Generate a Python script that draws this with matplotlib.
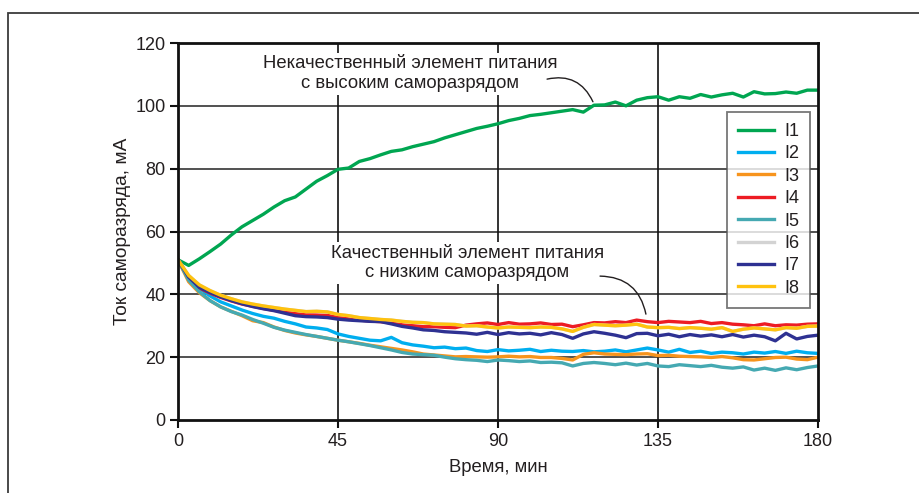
import matplotlib
matplotlib.use("Agg")
import matplotlib.pyplot as plt
from matplotlib.patches import Rectangle

plt.rcParams['font.family'] = ['Liberation Sans', 'DejaVu Sans']

time_min = list(range(0, 181, 3))

I1 = [51, 49.2, 51.3, 53.6, 56, 58.9, 61.5, 63.5, 65.5, 67.8, 69.8, 71, 73.5, 76, 77.8, 79.8, 80.2, 82.3, 83.2, 84.4,
      85.5, 86, 87, 87.8, 88.6, 89.8, 90.8, 91.8, 92.8, 93.5, 94.3, 95.3, 96, 96.9, 97.3, 97.8, 98.3, 98.8, 98.0, 100.2,
      100.3, 101.2, 100.0, 101.8, 102.6, 102.9, 101.8, 102.9, 102.4, 103.6, 102.8, 103.5, 104.0, 102.8, 104.5, 103.8,
      103.9, 104.4, 104.0, 105.0, 105.0]
I2 = [51, 45, 41.9, 39.5, 37.6, 36.3, 35.0, 33.9, 33.0, 32.4, 31.4, 30.6, 29.6, 29.3, 28.8, 27.4, 26.6, 26.0, 25.4, 25.2,
      26.3, 24.6, 23.9, 23.5, 23.0, 23.2, 22.7, 22.9, 22.1, 21.8, 22.4, 22.0, 22.2, 22.5, 21.8, 22.2, 21.9, 21.8, 22.1,
      21.7, 21.9, 22.3, 21.7, 22.3, 22.9, 22.3, 21.6, 22.5, 21.5, 21.9, 21.2, 21.6, 21.4, 21.0, 21.6, 21.3, 21.8, 21.2,
      21.9, 21.4, 21.2]
I3 = [51, 44, 40.5, 38.0, 36.0, 34.6, 33.2, 31.6, 31.0, 29.6, 28.5, 27.7, 27.1, 26.6, 26.0, 25.4, 24.9, 24.4, 23.8, 23.3,
      22.8, 22.3, 21.7, 21.0, 20.7, 20.4, 20.1, 20.2, 20.1, 20.0, 20.1, 20.3, 20.1, 20.2, 19.9, 19.9, 19.6, 19.1, 20.9,
      21.4, 21.0, 20.9, 20.8, 21.0, 21.1, 20.5, 20.6, 20.3, 20.2, 20.1, 19.9, 20.2, 19.8, 19.2, 19.1, 19.5, 19.9, 20.0,
      19.4, 19.2, 20.0]
I4 = [51, 45, 42, 40.4, 39.0, 37.9, 36.9, 36.2, 35.5, 34.9, 34.5, 33.9, 33.5, 33.4, 33.3, 32.8, 32.2, 31.8, 31.5, 31.3,
      30.9, 30.3, 30.0, 29.7, 29.7, 29.5, 29.4, 30.2, 30.6, 30.9, 30.4, 31.0, 30.5, 30.6, 30.9, 30.4, 30.5, 29.7, 30.3,
      31.0, 30.9, 31.3, 31.0, 31.8, 31.3, 31.0, 31.4, 31.2, 31.0, 31.4, 30.7, 31.0, 30.5, 30.3, 30.0, 30.6, 30.0, 30.3,
      30.2, 30.5, 30.6]
I5 = [51, 44.5, 40.8, 38.0, 36.0, 34.5, 33.4, 32.0, 30.8, 29.5, 28.6, 27.9, 27.2, 26.6, 26.0, 25.4, 24.9, 24.3, 23.7, 23.0,
      22.3, 21.5, 21.0, 20.8, 20.6, 20.0, 19.5, 19.2, 19.0, 18.6, 19.1, 18.9, 18.6, 18.8, 18.3, 18.4, 18.2, 17.2, 18.0,
      18.3, 18.0, 17.6, 18.1, 17.5, 18.0, 17.2, 17.0, 17.6, 17.3, 17.0, 17.4, 16.8, 16.5, 16.9, 15.9, 16.5, 15.8, 16.6,
      16.0, 16.7, 17.2]
I6 = [51, 46, 43, 41.2, 39.7, 38.6, 37.6, 36.9, 36.3, 35.8, 35.3, 34.9, 34.5, 34.6, 34.4, 33.6, 33.2, 32.6, 32.3, 32.0,
      31.8, 31.4, 31.1, 31.0, 30.6, 30.5, 30.4, 29.9, 30.0, 29.6, 29.3, 29.6, 29.5, 29.4, 29.6, 29.5, 29.0, 28.2, 29.5,
      30.4, 30.2, 30.0, 30.2, 30.5, 29.6, 29.4, 29.5, 29.1, 29.4, 29.2, 28.9, 29.4, 28.2, 28.9, 29.3, 29.0, 28.7, 29.4,
      29.2, 29.8, 29.9]
I7 = [51, 45.5, 42.2, 40.6, 39.2, 38.0, 37.0, 36.1, 35.4, 34.8, 34.0, 33.2, 32.9, 32.8, 32.6, 32.1, 31.8, 31.6, 31.4, 31.3,
      30.6, 29.8, 29.3, 28.7, 28.5, 28.1, 27.9, 27.7, 27.3, 27.9, 27.2, 27.8, 27.4, 27.6, 27.1, 27.8, 27.2, 26.0, 27.4,
      28.1, 27.6, 27.0, 26.2, 27.5, 27.6, 26.8, 27.3, 26.5, 27.2, 26.7, 27.1, 26.5, 27.2, 26.4, 27.0, 26.5, 25.2, 27.6,
      25.8, 26.6, 27.0]
I8 = [51, 46, 43, 41.2, 39.7, 38.6, 37.6, 36.9, 36.3, 35.8, 35.3, 34.9, 34.5, 34.6, 34.4, 33.6, 33.2, 32.6, 32.3, 32.0,
      31.8, 31.4, 31.1, 31.0, 30.6, 30.5, 30.4, 29.9, 30.0, 29.6, 29.3, 29.6, 29.5, 29.4, 29.6, 29.5, 29.0, 28.2, 29.5,
      30.4, 30.2, 30.0, 30.2, 30.5, 29.6, 29.4, 29.5, 29.1, 29.4, 29.2, 28.9, 29.4, 28.2, 28.9, 29.3, 29.0, 28.7, 29.4,
      29.2, 29.8, 29.9]

series = [I1, I2, I3, I4, I5, I6, I7, I8]
labels = ["I1", "I2", "I3", "I4", "I5", "I6", "I7", "I8"]
colors = ["#00a651", "#00aeef", "#f7941d", "#ed1c24", "#45a9b2", "#d3d3d3", "#2e3192", "#ffc20e"]

x_ticks = [0, 45, 90, 135, 180]
y_ticks = [0, 20, 40, 60, 80, 100, 120]

TXT = "#231f20"

fig = plt.figure(figsize=(9.2, 4.93), dpi=100)
ax = fig.add_axes([178/920, 1-420/493, 640/920, 377/493])

# outer frame
fig.patches.append(Rectangle((8/920, -0.2), 1.5, 1 - 13/493 + 0.2, transform=fig.transFigure,
                             fill=False, edgecolor="#3c3c3c", linewidth=1.3))

for s, lab, c in zip(series, labels, colors):
    ax.plot(time_min, s, color=c, linewidth=2.4, label=lab, solid_joinstyle='round')

ax.set_xlim(0, 180)
ax.set_ylim(0, 120)
ax.set_xticks(x_ticks)
ax.set_yticks(y_ticks)
for v in [20, 40, 60, 80, 100]:
    ax.axhline(v, color="#333333", linewidth=1.2, zorder=0.5)
for v in [45, 90, 135]:
    ax.axvline(v, color="#111111", linewidth=1.2, zorder=0.5)

for sp in ax.spines.values():
    sp.set_linewidth(2.0)
    sp.set_color("#111111")
ax.tick_params(direction='out', length=6, width=1.5, color="#111111", labelsize=13, labelcolor=TXT, pad=3)

ax.set_xlabel("Время, мин", fontsize=13.3, color=TXT, labelpad=7)
ax.set_ylabel("Ток саморазряда, мА", fontsize=13.8, color=TXT, labelpad=3)

bbox = dict(boxstyle="square,pad=0.15", facecolor="white", edgecolor="none")
ax.text(65.2, 110.2, "Некачественный элемент питания\nс высоким саморазрядом", ha="center", va="center",
        fontsize=13.3, color=TXT, linespacing=1.2, bbox=bbox, zorder=5)
ax.text(81.3, 50.0, "Качественный элемент питания\nс низким саморазрядом", ha="center", va="center",
        fontsize=13.3, color=TXT, linespacing=1.2, bbox=bbox, zorder=5)

ax.annotate("", xy=(116.7, 101.3), xytext=(103.8, 108.5),
            arrowprops=dict(arrowstyle="-", color="#231f20", linewidth=1.0,
                            connectionstyle="arc3,rad=-0.4", shrinkA=0, shrinkB=0), zorder=6)
ax.annotate("", xy=(131.6, 33.7), xytext=(118.7, 45.8),
            arrowprops=dict(arrowstyle="-", color="#231f20", linewidth=1.0,
                            connectionstyle="arc3,rad=-0.4", shrinkA=0, shrinkB=0), zorder=6)

leg = ax.legend(loc="upper right", bbox_to_anchor=(810/920, 1-112/493), bbox_transform=fig.transFigure,
                fancybox=False, frameon=True, fontsize=13, handlelength=2.0, handletextpad=0.55,
                labelspacing=0.3, borderpad=0.6, borderaxespad=0)
leg.get_frame().set_edgecolor("#555555")
leg.get_frame().set_linewidth(1.3)
for t in leg.get_texts():
    t.set_color(TXT)
leg.set_zorder(10)

fig.savefig("out.png", dpi=100)
